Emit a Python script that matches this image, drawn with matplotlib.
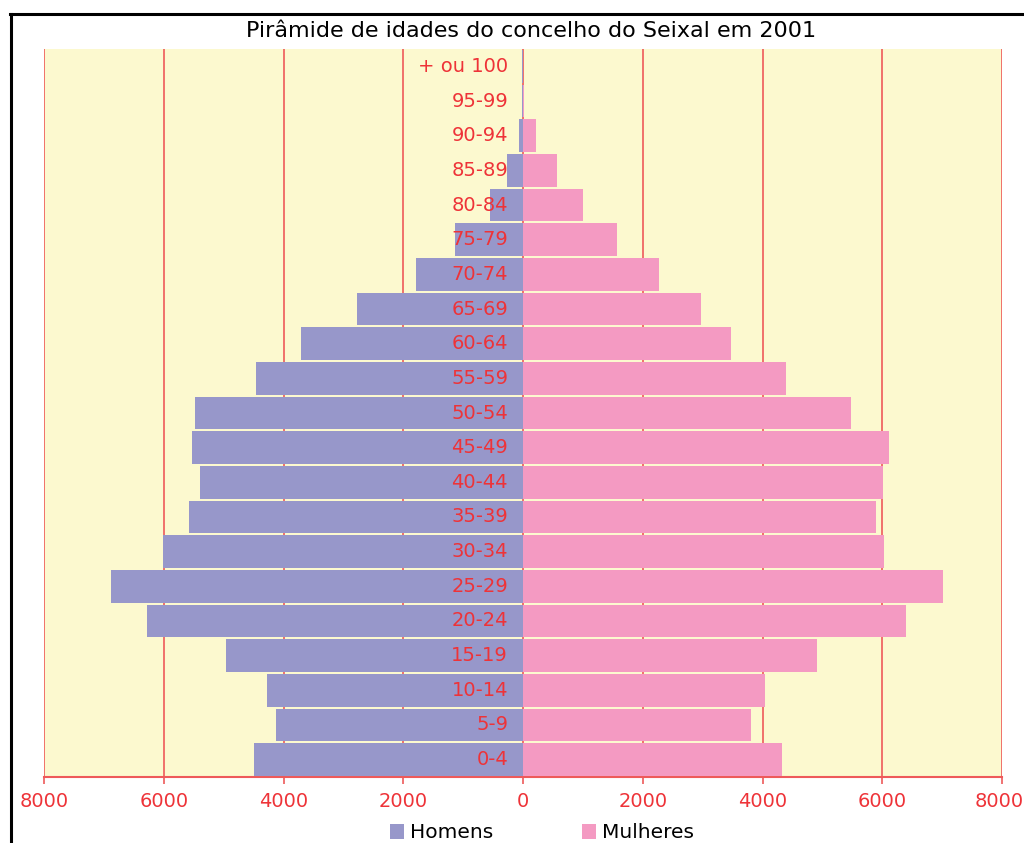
import numpy as np
import matplotlib.pyplot as plt
from matplotlib.lines import Line2D
import matplotlib.transforms as mtransforms

# age groups, bottom to top
grupos = ["0-4", "5-9", "10-14", "15-19", "20-24", "25-29", "30-34", "35-39",
          "40-44", "45-49", "50-54", "55-59", "60-64", "65-69", "70-74",
          "75-79", "80-84", "85-89", "90-94", "95-99", "+ ou 100"]
homens = [4500, 4120, 4280, 4965, 6285, 6885, 6005, 5585, 5400, 5530, 5480,
          4460, 3710, 2780, 1790, 1140, 543, 260, 75, 25, 25]
mulheres = [4325, 3810, 4040, 4917, 6402, 7020, 6035, 5903, 6010, 6120, 5470,
            4400, 3470, 2970, 2270, 1565, 994, 576, 210, 10, 5]
xticks = [-8000, -6000, -4000, -2000, 0, 2000, 4000, 6000, 8000]
titulo = "Pirâmide de idades do concelho do Seixal em 2001"

c_hom = "#9797CA"
c_mul = "#F49AC2"
c_bg = "#FCF9CF"
c_grid = "#EE5A5A"
c_txt = "#EE3338"

fig = plt.figure(figsize=(10.24, 8.43), dpi=100)
ax = fig.add_axes([44 / 1024, 1 - 777 / 843, 958 / 1024, 728 / 843])
ax.set_facecolor(c_bg)

y = np.arange(len(grupos))
ax.barh(y, -np.array(homens), height=0.95, color=c_hom, zorder=3, label="Homens")
ax.barh(y, mulheres, height=0.95, color=c_mul, zorder=3, label="Mulheres")

for t in xticks:
    ax.axvline(t, color=c_grid, lw=1.2, zorder=1)

for yi, g in zip(y, grupos):
    ax.text(-250, yi, g, ha="right", va="center", color=c_txt,
            fontsize=14, zorder=4)

ax.set_xlim(-8000, 8000)
ax.set_ylim(-0.5, 20.5)
ax.set_yticks([])
ax.set_xticks(xticks)
ax.set_xticklabels([str(abs(t)) for t in xticks], color=c_txt, fontsize=14)
ax.tick_params(axis="x", direction="out", length=5, color=c_grid, width=1.2, pad=6)
# keep the last label inside the picture
last = ax.get_xticklabels()[-1]
last.set_transform(last.get_transform() +
                   mtransforms.ScaledTranslation(-3 / 100, 0, fig.dpi_scale_trans))
for s in ["top", "left", "right"]:
    ax.spines[s].set_visible(False)
ax.spines["bottom"].set_color(c_grid)
ax.spines["bottom"].set_linewidth(1.5)

fig.text(531 / 1024, 1 - 31 / 843, titulo, ha="center", va="center",
         fontsize=16, color="black")

leg = fig.legend(loc="center", bbox_to_anchor=(542 / 1024, 1 - 833 / 843),
                 ncol=2, frameon=False, fontsize=14.5, handlelength=0.7,
                 handleheight=0.7, handletextpad=0.3, columnspacing=4.4)

# outer black frame: left and top edges only (cut at the right and bottom)
fig.lines.append(Line2D([10.5 / 1024, 10.5 / 1024], [-0.01, 1 - 13.5 / 843],
                        transform=fig.transFigure, color="black", lw=2.2))
fig.lines.append(Line2D([9.5 / 1024, 1.01], [1 - 13.5 / 843, 1 - 13.5 / 843],
                        transform=fig.transFigure, color="black", lw=2.2))

fig.savefig("out.png", dpi=100)
